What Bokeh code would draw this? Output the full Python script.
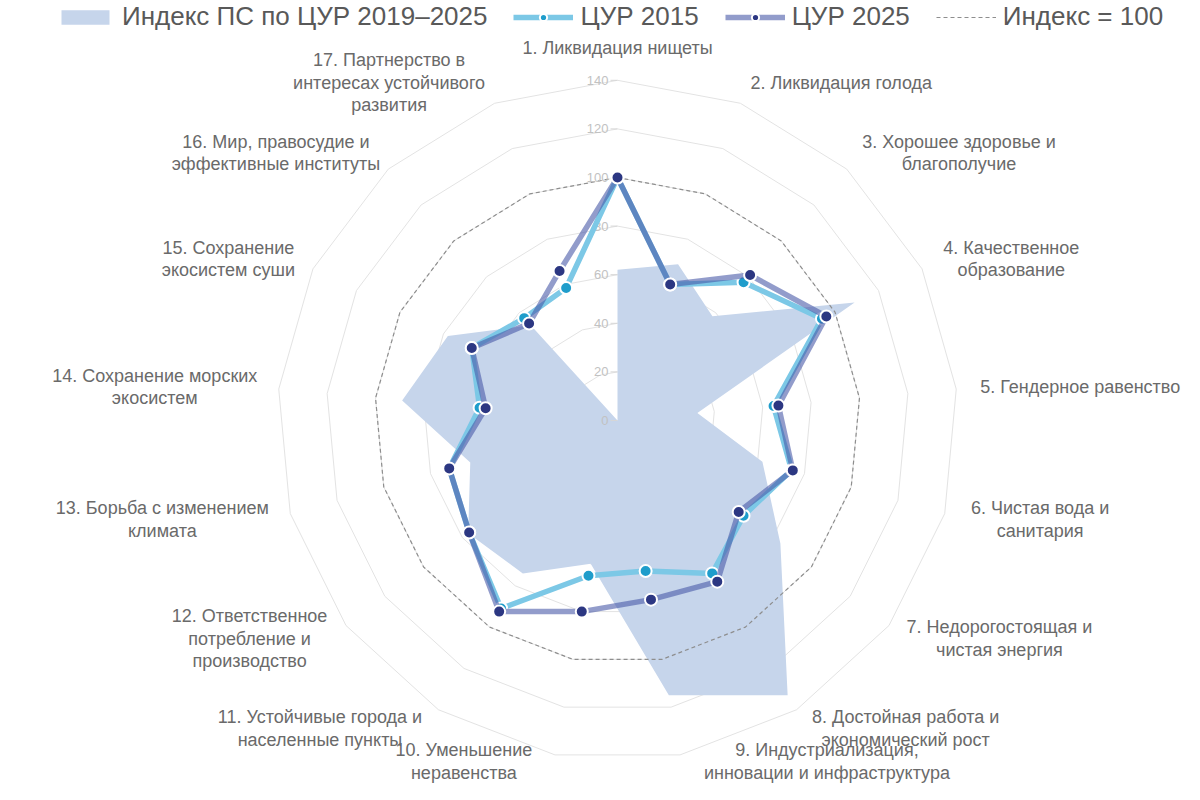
import numpy as np
from bokeh.plotting import figure
from bokeh.models import Range1d, Legend, LegendItem
from bokeh.core.properties import value
from bokeh.embed import file_html
from bokeh.resources import INLINE

# --- data ---
categories = [
    "1. Ликвидация нищеты",
    "2. Ликвидация голода",
    "3. Хорошее здоровье и\nблагополучие",
    "4. Качественное\nобразование",
    "5. Гендерное равенство",
    "6. Чистая вода и\nсанитария",
    "7. Недорогостоящая и\nчистая энергия",
    "8. Достойная работа и\nэкономический рост",
    "9. Индустриализация,\nинновации и инфраструктура",
    "10. Уменьшение\nнеравенства",
    "11. Устойчивые города и\nнаселенные пункты",
    "12. Ответственное\nпотребление и\nпроизводство",
    "13. Борьба с изменением\nклимата",
    "14. Сохранение морских\nэкосистем",
    "15. Сохранение\nэкосистем суши",
    "16. Мир, правосудие и\nэффективные институты",
    "17. Партнерство в\nинтересах устойчивого\nразвития",
]
index_ps = [62, 69, 58, 109, 33, 62, 84, 133, 115, 60, 74, 77, 63, 89, 78, 53, 0]
sdg_2015 = [100, 60, 77, 94, 64.5, 74.5, 65, 74, 63, 65, 91, 76.5, 72, 57, 67, 57, 58.5]
sdg_2025 = [100, 60, 81, 96, 66.5, 75, 62.5, 78, 75, 80, 92.5, 76.5, 72, 54.5, 67, 54, 66]
index_100 = [100] * 17
radial_ticks = [0, 20, 40, 60, 80, 100, 120, 140]

series_names = ["Индекс ПС по ЦУР 2019–2025", "ЦУР 2015", "ЦУР 2025", "Индекс = 100"]

# --- layout ---
W, H = 1184, 784
PX = 2.43          # pixels per index unit
CX, CY = 617, 420  # centre of the radar on the canvas
FONT = value("Liberation Sans")

n = len(categories)
theta = np.arange(n) * 2 * np.pi / n


def polar(vals, close=False):
    v = np.asarray(vals, dtype=float)
    xs, ys = v * np.sin(theta), v * np.cos(theta)
    if close:
        xs, ys = np.append(xs, xs[0]), np.append(ys, ys[0])
    return xs, ys


y_bottom = -(H - CY) / PX
p = figure(width=W, height=H,
           x_range=Range1d(-CX / PX, (W - CX) / PX),
           y_range=Range1d(y_bottom, CY / PX),
           x_axis_location=None, y_axis_location=None,
           toolbar_location=None, output_backend="svg", min_border=0)
p.grid.visible = False
p.outline_line_color = None

# polygon grid rings
ring_xs, ring_ys = [], []
for t in radial_ticks[1:]:
    rx, ry = polar([t] * n, close=True)
    ring_xs.append(rx)
    ring_ys.append(ry)
p.multi_line(ring_xs, ring_ys, line_color="#e3e3e3", line_width=1)

# filled index area
ax_, ay_ = polar(index_ps)
area = p.patch(ax_, ay_, fill_color="#c6d5eb", line_color=None)

# index = 100 dashed
dx, dy = polar(index_100, close=True)
dash = p.line(dx, dy, line_color="#8e8e8e", line_width=1.2, line_dash="4 3")

# radial axis ticks and labels
p.segment(x0=[-7 / PX] * len(radial_ticks), y0=radial_ticks,
          x1=[0] * len(radial_ticks), y1=radial_ticks,
          line_color="#d6d6d6", line_width=1)
p.text(x=[-9 / PX] * len(radial_ticks), y=radial_ticks,
       text=[str(t) for t in radial_ticks],
       text_align="right", text_baseline="middle",
       text_font=FONT, text_font_size="13px", text_color="#c2c2c2")

# series lines with markers
x15, y15 = polar(sdg_2015, close=True)
l15 = p.line(x15, y15, line_color="#7cc8e6", line_width=5.5, line_join="round")
s15 = p.scatter(x15[:-1], y15[:-1], size=12, fill_color="#1f9dcb",
                line_color="white", line_width=2)

x25, y25 = polar(sdg_2025, close=True)
l25 = p.line(x25, y25, line_color="#4a5aa8", line_width=5.5, line_alpha=0.6, line_join="round")
s25 = p.scatter(x25[:-1], y25[:-1], size=12, fill_color="#2c3782",
                line_color="white", line_width=2)

# category labels around the radar
R = 362 / PX
LH = 22.5 / PX
CHAR_W = 9.3 / PX
low_limit = y_bottom + 12 / PX
lx, ly, lt = [], [], []
for k, lab in enumerate(categories):
    lines = lab.split("\n")
    s, c = np.sin(theta[k]), np.cos(theta[k])
    axp, ayp = R * s, R * c
    if c < -0.9:
        axp += np.sign(s) * 22 / PX
    wb = max(len(l) for l in lines) * CHAR_W
    if s > 0.1:
        mid_x = axp + wb / 2
    elif s < -0.1:
        mid_x = axp - wb / 2
    else:
        mid_x = axp
    if c > 0.99:
        top_y = ayp + 11 / PX
    else:
        top_y = ayp + (len(lines) - 1) / 2 * LH
    lowest = top_y - (len(lines) - 1) * LH
    if lowest < low_limit:
        top_y += low_limit - lowest
    for i, line in enumerate(lines):
        lx.append(mid_x)
        ly.append(top_y - i * LH)
        lt.append(line)
p.text(x=lx, y=ly, text=lt, text_align="center", text_baseline="middle",
       text_font=FONT, text_font_size="18px", text_color="#6a6a6a")

# legend along the top edge
legend = Legend(items=[
    LegendItem(label=series_names[0], renderers=[area]),
    LegendItem(label=series_names[1], renderers=[l15, s15]),
    LegendItem(label=series_names[2], renderers=[l25, s25]),
    LegendItem(label=series_names[3], renderers=[dash]),
], location=(55, 752), orientation="horizontal",
    glyph_width=60, glyph_height=18, label_standoff=7, spacing=26,
    padding=0, margin=0, border_line_color=None, background_fill_alpha=0,
    label_text_font="Liberation Sans", label_text_font_size="26px",
    label_text_color="#595959")
p.add_layout(legend)

open("out.html", "w").write(file_html(p, INLINE))
